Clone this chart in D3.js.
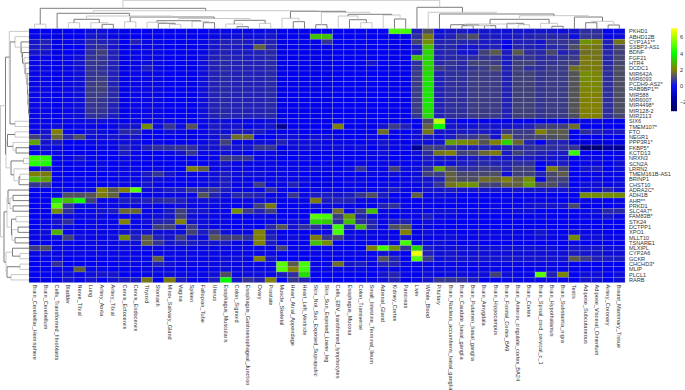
<!DOCTYPE html>
<html>
<head>
<meta charset="utf-8">
<script src="https://cdn.jsdelivr.net/npm/d3@7"></script>
<style>
  body { margin: 0; background: #fff; }
  text { font-family: "Liberation Sans", Arial, sans-serif; }
</style>
</head>
<body>
<svg></svg>
<script>
const genes = ['PKHD1', 'ABHD12B', 'CYP1A1**', 'SSBP3-AS1', 'BDNF', 'FGF21', 'HTR4', 'DCDC1', 'MIR642A', 'MIR6093', 'PCDH9-AS2*', 'RAB9BP1**', 'MIR588', 'MIR6007', 'MIR4498*', 'MIR128-2', 'MIR2113', 'SIX6', 'TMEM107*', 'FTO', 'NEGR1', 'PPP3R1*', 'FKBP5*', 'KCTD13', 'NRXN3', 'SCN2A', 'LRRN2', 'TMEM161B-AS1', 'BRINP1', 'CHST10', 'ADRA2C*', 'ADH1B', 'AHR**', 'PRKD1', 'SLC4A7*', 'FAM83B*', 'STK24', 'DCTPP1', 'XPO1', 'MLLT10', 'TSNARE1', 'MLXIPL', 'CYP2A6', 'GCKR', 'CHCHD3*', 'MLIP', 'PLCL1', 'RARB']

const tissues = ['Brain_Cerebellar_Hemisphere', 'Brain_Cerebellum', 'Cells_Transformed_fibroblasts', 'Bladder', 'Nerve_Tibial', 'Lung', 'Artery_Aorta', 'Artery_Tibial', 'Cervix_Ectocervix', 'Cervix_Endocervix', 'Thyroid', 'Stomach', 'Minor_Salivary_Gland', 'Vagina', 'Spleen', 'Fallopian_Tube', 'Uterus', 'Esophagus_Muscularis', 'Colon_Sigmoid', 'Esophagus_Gastroesophageal_Junction', 'Ovary', 'Prostate', 'Muscle_Skeletal', 'Heart_Atrial_Appendage', 'Heart_Left_Ventricle', 'Skin_Not_Sun_Exposed_Suprapubic', 'Skin_Sun_Exposed_Lower_leg', 'Cells_EBV_transformed_lymphocytes', 'Esophagus_Mucosa', 'Colon_Transverse', 'Small_Intestine_Terminal_Ileum', 'Adrenal_Gland', 'Kidney_Cortex', 'Pancreas', 'Liver', 'Whole_Blood', 'Pituitary', 'Brain_Nucleus_accumbens_basal_ganglia', 'Brain_Caudate_basal_ganglia', 'Brain_Putamen_basal_ganglia', 'Brain_Amygdala', 'Brain_Hippocampus', 'Brain_Frontal_Cortex_BA9', 'Brain_Anterior_cingulate_cortex_BA24', 'Brain_Cortex', 'Brain_Spinal_cord_cervical_c_1', 'Brain_Hypothalamus', 'Brain_Substantia_nigra', 'Testis', 'Adipose_Subcutaneous', 'Adipose_Visceral_Omentum', 'Artery_Coronary', 'Breast_Mammary_Tissue']

// values, one row per gene
const values = [
  [0,0,-.2,0,0,.2,.2,.1,-.1,0, 0,0,0,0,-.1,0,.1,.1,.1,.1, .1,.2,-.1,-.1,-.1,-.1,-.1,0,0,0, 0,0,4.8,4.8,.4,1.2,.2,.3,.4,.3, .3,.3,.2,.3,.3,.3,.3,.2,.3,.7, .7,0,.1],
  [.1,.1,-.3,0,0,.3,.3,.1,-.2,0, 0,0,0,0,-.1,0,.1,.2,.2,.2, .2,.3,-.2,-.1,-.1,3,3,0,0,0, 0,0,-.1,-.1,.7,1.9,.3,.5,.9,1.2, .4,.4,.3,.4,.5,.6,.6,.6,.2,.8, .8,.1,.2],
  [.3,.5,-.3,.1,.2,.6,.5,.4,0,.5, .1,.1,0,0,-.1,.1,.3,.5,.5,.4, .4,.5,-.2,-.1,-.1,-.2,.8,0,0,0, 0,0,-.1,-.1,1,2.2,.5,.6,.6,.6, .4,.4,.1,.5,.5,.3,.8,.8,.9,2.3, 2.1,.5,1.8],
  [.4,.4,-.2,0,0,.6,.7,.3,-.2,.1, .1,.1,0,0,-.1,.1,.3,.5,.4,.3, 1.5,.6,-.3,-.1,-.1,-.2,-.2,0,0,0, 0,0,-.1,-.1,.4,3,.5,.6,.3,.3, .4,.5,-.2,.6,.5,.4,.6,.7,1.2,1.9, 1.8,.5,1.1],
  [.3,.3,-.3,0,.1,.7,1,.5,-.1,.1, .1,.1,0,0,-.1,.1,.4,.5,.4,.4, .5,.6,-.2,-.1,-.1,-.2,-.2,0,0,0, 0,0,-.1,-.1,.4,3.4,.5,.6,.3,.3, 1,1.4,.4,1.4,.7,.6,1.1,.5,.7,1.7, 1.8,.6,1],
  [.1,.1,-.1,.1,.2,.8,.8,.5,-.2,.1, .1,.1,0,0,-.1,.2,.5,.6,.5,.4, .5,.6,-.2,-.1,-.1,-.2,-.2,0,0,0, 0,0,-.1,-.1,3,3.4,.5,.6,.6,.7, .8,.8,.4,.8,.8,.6,.7,.8,.9,1.9, 1.8,.6,1.1],
  [.1,.1,-.1,.1,.3,.8,.8,.5,-.2,.1, .2,.1,0,0,-.1,.2,.5,.6,.5,.5, .5,.6,-.2,-.1,-.1,-.2,-.2,0,0,0, .3,0,-.1,-.1,.7,3.4,.6,.8,.6,1, 1,.9,.4,1,1,.7,.8,.9,1,1.9, 1.9,.6,1.1],
  [.1,.1,-.1,.1,.2,.8,.7,.5,-.2,.1, .4,.1,0,0,-.1,.2,.5,.6,.5,.5, .5,.6,-.2,-.1,-.1,-.2,-.2,0,0,0, 0,0,-.1,-.1,.8,3.3,.9,.7,.6,.8, .9,1.2,.5,1,.7,.7,.9,.9,1.7,1.9, 1.9,.7,1.2],
  [.1,.1,-.1,.1,.2,.8,.8,.5,-.2,.1, .1,.1,0,0,-.1,.2,.5,.6,.5,.5, .5,.6,-.2,-.1,-.1,-.2,-.2,0,0,0, 0,0,-.1,-.1,.9,3.5,.5,.7,.7,.9, .9,.9,.5,1,1,.8,.9,.9,1.3,2.2, 2.1,.7,1.2],
  [.1,.1,-.1,.1,.2,.8,.9,.5,-.2,.1, .1,.1,0,0,-.1,.2,.5,.6,.5,.5, .5,.6,-.2,-.1,-.1,-.2,-.2,0,0,0, 0,0,-.1,-.1,.9,3.5,.5,.7,.7,.9, .9,.9,.5,1,1,.8,.9,.9,1.3,2.2, 2.1,.7,1.2],
  [.1,.1,-.1,.1,.2,.9,1,.5,-.2,.1, .1,.1,0,0,-.1,.2,.5,.6,.5,.5, .5,.6,-.2,-.1,-.1,-.2,-.2,0,0,0, 0,0,-.1,-.1,.9,3.6,.5,.7,.7,.9, .9,.9,.5,1,1,.8,.9,.9,1.3,2.1, 2.1,.7,1.2],
  [.1,.1,-.1,.1,.2,.9,1,.6,-.2,.1, .1,.1,0,0,-.1,.2,.5,.6,.5,.5, .5,.6,-.2,-.1,-.1,-.2,-.2,0,0,0, 0,0,-.1,-.1,.9,3.6,.5,.7,.7,.9, .9,.9,.5,1,1,.8,.9,.9,1.3,2.1, 2.1,.7,1.2],
  [.1,.1,-.1,.1,.2,.9,.9,.6,-.2,.1, .1,.1,0,0,-.1,.2,.5,.6,.5,.5, .5,.6,-.2,-.1,-.1,-.2,-.2,0,0,0, 0,0,-.1,-.1,.9,3.6,.5,.7,.7,.9, .9,.9,.5,1,1,.8,.9,.9,1.3,2, 2,.7,1.2],
  [.1,.1,-.1,.1,.2,.9,.8,.6,-.2,.1, .1,.1,0,0,-.1,.2,.5,.6,.5,.5, .5,.6,-.2,-.1,-.1,-.2,-.2,0,0,0, 0,0,-.1,-.1,.9,3.6,.5,.7,.7,.9, .9,.9,.5,1,1,.8,.9,.9,1.3,2, 2,.7,1.2],
  [.1,.1,-.1,.1,.2,.8,.8,.5,-.2,.1, .1,.1,0,0,-.1,.2,.5,.6,.5,.5, .5,.6,-.2,-.1,-.1,-.2,-.2,0,0,0, 0,0,-.1,-.1,.9,3.6,.5,.7,.7,.9, .9,.9,.5,1,1,.8,.9,.9,1.3,2, 2,.7,1.2],
  [.1,.1,-.1,.1,.2,.8,.8,.5,-.2,.1, .1,.1,0,0,-.1,.2,.5,.6,.5,.5, .5,.6,-.2,-.1,-.1,-.2,-.2,0,0,0, 0,0,-.1,-.1,.9,3.5,.5,.7,.7,.9, .9,.9,.5,1,1,.8,.9,.9,1.3,2, 2,.7,1.2],
  [.1,.1,-.1,.1,.2,.7,.7,.4,-.2,.1, .1,.1,0,0,-.1,.2,.5,.6,.5,.5, .5,.6,-.2,-.1,-.1,-.2,-.2,0,0,0, 0,0,-.1,-.1,.8,3.4,.5,.7,.7,.9, .9,.9,.5,1,1,.8,.9,.9,1.2,2, 2,.7,1.1],
  [.1,.1,0,.1,.1,.2,.2,.1,0,.1, .1,.1,.1,0,0,.1,.2,.2,.1,.1, .1,.2,-.1,0,0,-.1,-.1,.1,0,0, 0,0,-.1,-.1,0,1.1,6.2,.2,0,0, -.1,-.1,-.2,-.1,-.1,-.2,-.2,-.2,-.3,.1, .1,-.2,-.2],
  [.1,.1,.2,0,.1,.1,0,.1,.3,.3, 2.2,.2,.8,.2,1.3,.1,.4,.3,.3,.1, .2,.3,-2,-.1,-.1,0,0,2,0,-.1, -.1,.3,.9,.5,0,1.5,4,.3,.3,.3, .4,.3,.3,.4,.5,.9,1,1,1.7,0, 0,0,0],
  [.1,.3,2,.1,0,.3,.2,.1,.6,.6, .1,0,.2,.1,-.2,.1,.3,.2,.4,.4, .4,.1,-.1,.1,0,0,-.1,-.1,0,-.1, -.2,1.7,.1,0,.2,1.8,.3,.3,.4,.4, .4,.3,.9,.9,.9,2,1.4,1.4,0,.7, .5,.3,.4],
  [1,.4,1.6,.6,1.2,.2,.2,.3,.2,.3, 0,0,0,0,-.3,.1,.2,.6,1.7,1.7, 0,0,.2,.2,.1,.2,.2,.1,0,0, .1,.1,0,.1,.2,.4,.2,.4,.8,.8, 1.1,.3,1.9,.9,1,1.1,1.2,1.3,0,0, 0,0,0],
  [2.5,.3,.4,0,0,.1,.1,.1,.2,.2, 0,.1,0,0,0,.1,.3,1,.1,.1, .2,.2,.5,.2,.2,.2,.1,.1,.1,0, .1,.3,.1,-.1,.2,.2,.3,2.5,2.2,1.9, 1.3,2,3.3,1.6,.5,0,.6,.5,-.3,-.4, -.4,-.3,-.3],
  [.2,.2,.1,0,0,0,.1,.1,.5,.2, .5,.7,.7,.8,.7,.3,.3,.5,.3,.3, .8,.8,-.1,.2,.2,.2,.1,.2,.1,.2, 0,.2,.1,.1,-2,1,.9,.7,.5,.5, .5,.5,.5,.6,.7,.7,.7,.7,.8,-2.6, -2.7,-1.8,-2],
  [0,.1,.1,0,-.1,-.1,0,0,.4,.1, 0,0,.1,.3,.8,.1,.1,.2,.1,0, .1,.1,-.4,-.1,-.1,-.1,-.1,0,0,0, .1,.2,0,-.1,.2,.7,1.8,2,1,1.1, 1.6,1.9,.4,1,.7,.5,.4,.4,4.6,0, 0,0,.1],
  [4.6,4.5,0,.1,.3,.1,0,0,.1,.1, 0,0,0,0,0,0,.1,1,.8,.8, .1,.1,0,0,.1,0,0,.1,0,0, .1,.1,0,0,.1,.4,.3,.3,.3,.4, .4,.4,.3,.4,.4,.3,.3,.3,0,.1, .1,0,.1],
  [4.4,4.3,0,0,.1,0,.1,0,.1,0, 0,0,0,0,0,0,.1,.3,.1,.1, .1,.1,0,.1,0,0,.1,0,0,.1, 0,.1,.1,0,.1,.3,.2,.2,.4,.5, .6,.5,.5,.7,.7,0,.3,.4,0,.1, .1,0,.2],
  [.1,.5,-.1,0,0,0,.1,0,.1,.1, 0,.1,0,0,2,1.5,.1,.2,.1,.1, .1,.1,.1,.1,.1,.2,.1,0,.2,.8, .1,.1,1,.2,.2,.7,2.5,1.2,.7,.7, .9,.8,.5,1,1,0,1.9,1.1,0,.3, .4,0,.2],
  [2,1.9,0,0,0,0,0,.1,.1,.1, .4,.8,.3,.1,.1,.1,.2,.4,.2,.2, .2,.1,.1,.1,0,-.3,-.3,.1,0,0, .1,.1,.2,.1,.2,1,.9,1.5,1.1,1.1, 1.1,1.2,.2,1,1,.5,1.1,1.4,0,.1, .1,.1,.1],
  [3,2.5,0,0,.1,0,0,0,.1,.1, .2,.2,.1,0,0,.1,.2,.4,.1,.1, .1,.1,.1,.1,.1,-.1,-.1,0,.1,.1, 0,0,0,.1,.2,.3,.5,1.5,1.2,1.2, 1.7,1.6,2,1.5,2.2,.1,1.1,1,0,0, .1,0,.1],
  [.8,.9,0,0,0,0,0,.1,.1,.1, .3,.1,0,0,0,.1,.2,.4,.1,.1, .9,.1,.1,.5,.1,-.4,-.4,0,.1,.1, 0,.1,.1,.1,.1,.3,.8,1.8,2.2,2.3, 1.1,1,1.5,1.5,2.5,1.2,1.2,.8,0,.2, .2,.1,.2],
  [0,0,.1,.1,.1,.2,2,1.4,2,5, .2,.2,.4,.4,.8,.7,.8,.4,.1,.1, .1,.7,.1,0,0,.1,.1,.1,.1,.1, .1,.2,.4,.1,.1,.3,.3,.4,.3,.3, .3,.3,.2,.3,.3,.3,.3,.3,.1,.2, .2,.6,.2],
  [0,0,.1,1.2,1.2,1.3,1.9,1.5,.1,.1, 0,.1,.1,.1,.1,1.3,.5,.2,.6,.6, .5,.1,.1,.8,.1,.4,.4,.3,.4,.8, 1.2,.4,0,0,1.5,.1,.2,.1,0,0, 0,0,0,0,0,0,0,0,0,2.2, 2.2,2.2,2.2],
  [0,0,3.6,3,4.2,1,.1,.1,.4,.4, .5,.6,.7,.5,.2,.2,.2,.1,.1,.1, .2,.2,0,.1,.1,1.9,.4,.5,.5,.1, .1,.1,.1,0,0,.1,.1,.1,0,0, 0,0,.1,0,.1,.1,.1,0,0,.1, .1,0,.1],
  [0,0,5,.7,.1,.1,.1,.1,.1,.1, .1,0,.1,.2,.1,.1,.1,.1,0,.1, 1,1.9,0,0,0,.2,.1,.1,.1,0, 0,.5,.7,.1,0,.1,0,0,0,0, 0,.1,0,.1,.2,.3,.3,.3,1.1,-.3, 0,0,.1],
  [-.2,-.2,2.2,.7,.1,.1,.3,.4,1.6,1.6, .1,.1,.4,1,.4,.3,.1,.1,2.2,.9, .5,1,0,.1,0,0,.1,1.7,.1,.8, 3,.1,0,.1,.1,.1,.2,.2,.1,.1, .1,.1,.1,.2,.2,0,0,0,0,.1, .2,.6,.6],
  [0,0,.1,.1,.1,.1,.1,0,.1,.1, .1,.2,.3,1,.2,.1,.1,.1,0,0, .1,.1,0,0,0,5,4.8,.9,2.4,.5, .2,.1,0,.1,.1,.4,.1,.1,0,0, 0,0,0,0,0,.1,0,0,0,.1, .1,.3,.1],
  [0,.1,.3,.7,0,.1,.1,.1,2,.1, .2,.5,.6,2,.3,.2,.1,.1,0,0, 0,.1,0,.2,.1,3.4,3.2,.7,3,.7, .5,.1,.4,.5,0,.2,.1,0,0,0, 0,0,0,0,0,0,0,0,0,0, 0,0,0],
  [0,.1,.2,.1,0,.1,.1,.1,.1,.1, .1,1,1,.2,.9,.2,.1,.1,0,.1, 0,.6,1.3,.3,.7,.7,.3,4.7,.4,3, .6,.1,1.2,1.4,-.1,.1,0,0,0,0, 0,0,0,0,0,0,0,0,0,.1, 0,0,0],
  [.1,.2,2.8,.1,.1,.1,.1,.1,.3,.3, .3,.2,.2,.2,1,.4,.9,.2,.1,.1, 2,.3,0,0,0,.1,.1,4.8,.1,.1, .1,.1,0,2,-.3,.2,.1,.1,0,.1, .1,.1,.1,.1,.1,.3,.1,0,.2,.1, .1,0,0],
  [.1,.1,.2,1,.2,.1,.1,.2,2.2,.5, 1.4,.5,.3,1,.3,.2,1.4,1,1,.7, 2,.5,.1,.2,.1,1.9,.8,1,.2,.1, .1,.1,.1,.3,-.2,.1,.1,.2,.1,.1, .1,.1,.1,.1,.1,.2,.1,.1,2.2,.2, .2,.1,.1],
  [-.1,0,-.1,.1,0,.1,.1,.1,.2,.2, 1.5,.8,.3,.5,.4,.3,.3,.4,.1,.1, 2,.4,0,0,0,3,2.2,0,0,0, .1,.1,.1,4.8,-.2,.1,.2,.1,0,.1, 0,0,0,0,0,0,0,0,.1,0, 0,0,0],
  [.9,1.2,.1,.1,.1,.1,.1,.1,.1,.1, .1,.1,.1,.1,.1,.1,.1,.1,.1,.1, .1,.1,1,.1,.1,.1,.1,0,0,0, 2,4.8,2.3,.8,3.4,.4,.2,.2,.2,.2, .2,.2,.2,.2,.2,.2,.2,.1,.3,.3, .3,.2,.2],
  [.1,.2,.1,.1,.1,.1,.1,.1,.1,.1, 0,.1,.1,.1,.1,.1,.1,.1,.1,.1, .1,.1,0,0,0,.1,.1,.1,.1,.1, 0,.2,.1,0,6.8,.5,.2,.3,.2,.2, .2,.2,.2,.2,.2,.2,.2,.2,.4,.3, .3,.2,.2],
  [0,0,.1,0,0,0,0,.1,.1,.1, .1,1.5,.1,.1,.1,.1,.1,.2,.2,.1, 2,.3,0,0,0,0,0,0,0,0, .1,1.3,.5,0,5,.9,.2,.3,.3,.3, .3,.3,.3,.3,.3,.3,.3,.3,1.4,.9, .5,.4,.4],
  [0,0,.7,0,0,0,0,0,.1,.1, .1,.5,.2,.1,.1,.1,.1,.2,.1,.1, .1,.1,5,1.4,4.8,.1,.1,1.7,.3,.4, .1,.5,.5,.1,.1,.1,.1,.1,.1,.1, .1,.1,.1,.1,.1,.1,.1,.1,0,0, 0,0,0],
  [0,0,.1,.1,1.5,.1,.1,0,0,0, .1,.1,.1,0,0,0,.1,.2,.1,.1, .1,.1,5,2,4.7,.1,.1,.1,.1,.1, 0,.1,.1,0,0,.1,.1,.1,.1,0, .1,.1,0,0,0,.1,.1,.1,0,0, 0,0,0],
  [0,0,.1,.2,.1,.2,.3,.3,0,0, .1,.1,.2,.1,.1,.1,.2,1.2,.1,.2, .2,.1,.4,.7,3.5,0,0,0,0,0, 0,.3,.5,.1,-.1,.2,.1,.2,.2,.2, .2,1,.2,.1,.1,5,.5,2.1,0,.2, .2,0,.2],
  [-.3,-.2,-.2,.3,.1,.3,0,.3,.4,.4, 1.8,0,1.9,.4,.1,.1,.4,4,.3,.8, .5,2,0,.8,.5,0,0,0,0,0, .1,.2,.5,-.2,.1,.3,.8,.8,.7,.4, -.1,-.1,.1,.1,.1,.1,.1,.1,0,.3, .2,-.1,.2]
]

// dendrograms: [height, child, child], a plain number is a leaf index
const topTree = [28.4,
  [20.4, [4.5, 0, 1],
    [18, [15.4, 2,
        [12.7, [9.4, [6, 3, 4], [6, 5, [4.4, 6, 7]]],
          [11.7, [6.9, 8, 9],
            [10.2, [8, [6.4, 10, [5.4, 11, [4.4, 12, 13]]], [7.4, 14, [6, 15, 16]]],
              [8.4, [4.7, 17, [2, 18, 19]], [5.4, 20, 21]]]]]],
      [17.4, [10.4, 22, [7, 23, 24]],
        [16.4, [4, 25, 26],
          [14.4, [12.7, 27, [9, 28, [6, 29, 30]]],
            [13.7, 31, [9.7, 32, 33]]]]]]],
  [21.4, 34,
    [16.4, 35,
      [14.7, 36,
        [13, [9.4, [4.7, [4, 37, [3.4, [3, 38, 39], [3, 40, 41]]], [5.4, 42, [4, 43, 44]]],
            [5.4, 45, [2.4, 46, 47]]],
          [11.7, 48, [7.4, [6, 49, 50], [3.7, 51, 52]]]]]]]]

const leftTree = [28.5,
  [23.5,
    [19.7, 0,
      [19, [14, 1, [8, 2, [7.5, 3, [6.5, 4, [5, 5, [4, 6, [3, 7,
            [2, 8, [1.8, 9, [1.5, 10, [1.2, 11, [1, 12, [.8, 13, [.5, 14, [.3, 15, 16]]]]]]]]]]]]]]],
        [14, 17, 18]]],
    [23, [21.5, [14, 19, 20], [16, 21, [13, 22, 23]]],
      [18, [5.5, 24, 25], [15, 26, [10, [9, 27, 28], 29]]]]],
  [25,
    [22, [21, 30, [19, [16, 31, 32], [16, 33, 34]]],
      [17.5, [13, 35, 36], [17, [11, 37, 38], [14, 39, 40]]]],
    [23, [16.5, 41, [9, 42, 43]],
      [22, [9, 44, 45], [18, 46, 47]]]]]

const legendTicks = [6, 4, 2, 0, -2]

const width = 685
const height = 390
const gridLeft = 29
const gridRight = 625
const gridTop = 28.7
const gridBottom = 282.6

const svg = d3.select('svg').attr('width', width).attr('height', height).style('display', 'block')

// blue -> olive -> green -> yellow, like the legend
const color = d3.scaleLinear()
  .domain([-3, 0, 2, 4, 7])
  .range(['#000066', '#0000f2', '#808000', '#00ff00', '#ffff00'])
  .clamp(true)

const scX = d3.scaleBand().domain(d3.range(tissues.length)).range([gridLeft, gridRight])
const scY = d3.scaleBand().domain(d3.range(genes.length)).range([gridTop, gridBottom])

// cells
const rows = svg.append('g')
  .selectAll('g')
  .data(values)
  .enter()
  .append('g')
  .attr('transform', (d, i) => `translate(0, ${scY(i)})`)

rows.selectAll('rect')
  .data(d => d)
  .enter()
  .append('rect')
  .attr('x', (d, i) => scX(i))
  .attr('width', scX.bandwidth())
  .attr('height', scY.bandwidth())
  .attr('fill', d => color(d))
  .attr('stroke', 'rgba(175,175,195,0.38)')
  .attr('stroke-width', 0.7)

// gene names
svg.append('g')
  .selectAll('text')
  .data(genes)
  .enter()
  .append('text')
  .attr('x', gridRight + 4)
  .attr('y', (d, i) => scY(i) + scY.bandwidth() / 2)
  .attr('dy', '.35em')
  .attr('font-size', 5.6)
  .attr('fill', '#333')
  .text(d => d)

// tissue names, read from top to bottom
svg.append('g')
  .selectAll('text')
  .data(tissues)
  .enter()
  .append('text')
  .attr('transform', (d, i) => `translate(${scX(i) + scX.bandwidth() / 2}, ${gridBottom + 2}) rotate(90)`)
  .attr('dy', '.35em')
  .attr('font-size', 5.6)
  .attr('fill', '#333')
  .text(d => d)

// leafPos - where leaf i sits, heightPos - where a height sits, vertical - tree grows upward
function drawTree (node, leafPos, heightPos, vertical, depth, g) {
  if (typeof node === 'number') return { pos: leafPos(node), base: heightPos(0) }
  const a = drawTree(node[1], leafPos, heightPos, vertical, depth + 1, g)
  const b = drawTree(node[2], leafPos, heightPos, vertical, depth + 1, g)
  const h = heightPos(node[0])
  const line = vertical
    ? `M${a.pos},${a.base}V${h}H${b.pos}V${b.base}`
    : `M${a.base},${a.pos}H${h}V${b.pos}H${b.base}`
  g.append('path')
    .attr('d', line)
    .attr('fill', 'none')
    .attr('stroke', depth % 2 ? '#7c7c7c' : '#c8c8c8')
    .attr('stroke-width', 1)
  return { pos: (a.pos + b.pos) / 2, base: h }
}

const scTop = d3.scaleLinear().domain([0, 28.7]).range([gridTop, 0])
const scLeft = d3.scaleLinear().domain([0, 29]).range([gridLeft, 0])

drawTree(topTree, i => scX(i) + scX.bandwidth() / 2, scTop, true, 0, svg.append('g'))
drawTree(leftTree, i => scY(i) + scY.bandwidth() / 2, scLeft, false, 0, svg.append('g'))

// legend
const scLegend = d3.scaleLinear().domain([-3.05, 7]).range([110.7, 29])
const legend = svg.append('g')

legend.selectAll('rect')
  .data(d3.range(-3.05, 7, 0.125))
  .enter()
  .append('rect')
  .attr('x', 671)
  .attr('width', 6)
  .attr('y', d => scLegend(d + 0.125))
  .attr('height', d => scLegend(d) - scLegend(d + 0.125) + 0.5)
  .attr('fill', d => color(d))

const axisLegend = d3.axisRight(scLegend).tickValues(legendTicks).tickSize(0).tickPadding(3)
const legendAxis = legend.append('g')
  .attr('transform', 'translate(677, 0)')
  .call(axisLegend)
legendAxis.select('.domain').remove()
legendAxis.selectAll('text')
  .attr('font-size', 5.6)
  .attr('font-family', '"Liberation Sans", Arial, sans-serif')
  .attr('fill', '#333')
</script>
</body>
</html>
